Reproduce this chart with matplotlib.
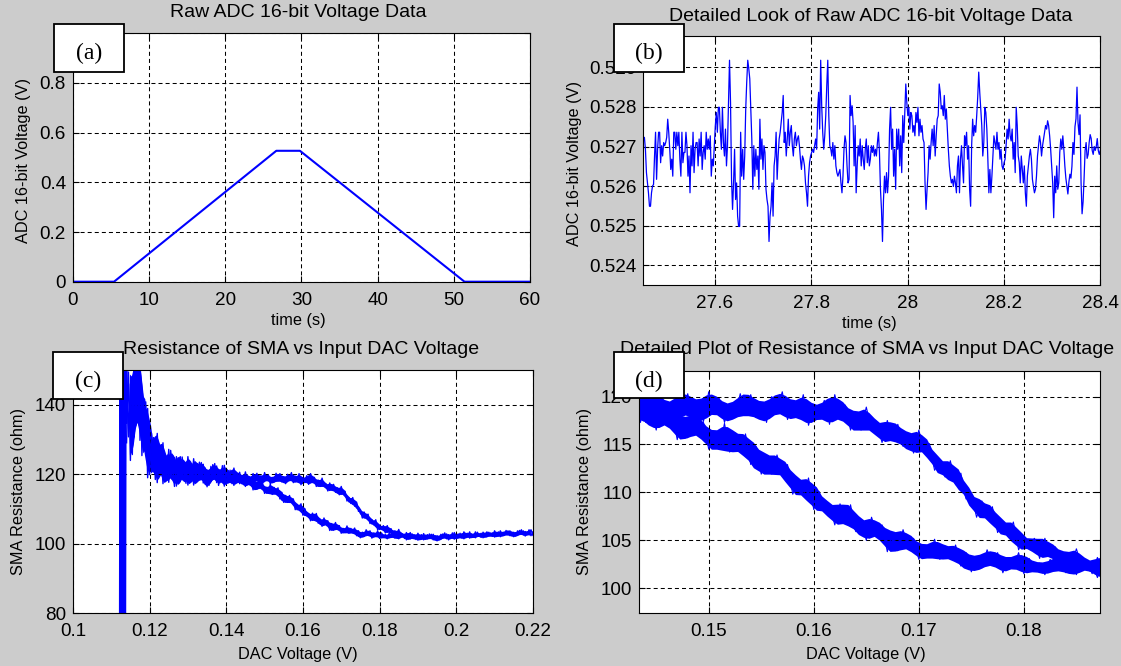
import numpy as np
import matplotlib.pyplot as plt
from matplotlib.patches import Rectangle
from matplotlib.ticker import FormatStrFormatter

plt.rcParams['font.family'] = ['Liberation Sans', 'DejaVu Sans']
plt.rcParams['lines.scale_dashes'] = False

# (a) raw ADC reading over the whole run
ramp_t = [0, 5.4, 26.7, 29.8, 51.4, 60]
ramp_v = [0, 0, 0.527, 0.527, 0, 0]

# (b) detail of the plateau, ADC reading in mV, evenly sampled in time
detail_t0, detail_t1 = 27.452, 28.40
detail_mv = [
    527.23, 527.23, 526.93, 526.34, 526.08, 525.83, 525.49, 525.49, 525.83, 526.00, 526.04, 526.76,
    527.36, 526.17, 526.93, 527.36, 527.36, 526.59, 527.02, 526.76, 527.10, 527.02, 527.10,
    527.23, 527.69, 527.36, 526.93, 526.42, 526.68, 526.25, 527.36, 527.36, 526.93, 527.36,
    527.02, 527.36, 526.68, 526.25, 527.36, 526.59, 526.85, 526.85, 527.36, 527.02, 526.25,
    526.76, 525.83, 527.02, 526.51, 527.36, 526.34, 526.93, 527.10, 527.10, 526.51, 527.19,
    526.76, 527.36, 526.42, 526.85, 527.02, 526.68, 527.36, 526.93, 527.19, 526.93,
    527.27, 526.25, 526.68, 526.51, 527.02, 527.53, 527.86, 527.36, 527.99, 527.99, 527.36,
    526.93, 527.99, 527.10, 526.76, 527.44, 526.51, 527.02, 528.12, 529.18, 528.12,
    526.17, 525.41, 526.08, 526.93, 525.66, 526.08, 525.24, 524.98, 524.98,
    # 27.66 s onwards
    527.36, 526.25, 526.93, 526.17, 526.76, 527.95, 528.63, 529.18, 528.97, 528.71,
    527.95, 527.19, 525.92, 527.02, 526.25, 526.93, 526.42, 526.76, 525.92, 527.69,
    526.68, 527.19, 526.42, 527.02, 526.85, 525.92, 525.66, 525.49, 524.60, 525.24,
    525.49, 526.08, 525.24, 526.51, 526.76, 527.36, 526.17, 526.76, 527.19, 527.36,
    527.61, 527.86, 528.29, 527.10, 527.36, 526.76, 527.19, 527.69, 527.02, 527.36,
    527.53, 527.02, 526.76, 527.19, 527.36, 527.02, 527.19, 527.27, 527.02, 526.68,
    526.42, 526.76, 526.68, 526.51, 526.08, 525.83, 525.49, 526.25, 526.59, 526.76,
    526.85, 526.93, 526.85, 527.02, 527.19, 526.93, 527.95, 528.37, 527.44, 529.18,
    528.03, 527.36, 526.93, 527.27, 527.78, 528.54, 529.18, 527.78, 527.02, 526.93,
    526.76, 527.10, 526.68, 527.02, 526.51, 526.34, 526.25, 526.34, 526.42, 526.08,
    525.83, 526.25, 526.93, 527.27, 527.10, 526.51, 526.08, 526.17,
    # 27.88 s onwards
    528.29, 527.78, 528.03, 527.61, 526.51, 527.53, 525.83, 526.51, 527.02, 526.76,
    527.19, 526.51, 527.02, 526.68, 526.42, 526.93, 527.19, 526.59, 527.02, 526.51,
    526.68, 527.02, 526.85, 527.02, 526.76, 526.93, 526.76, 527.10, 527.36, 526.85,
    525.92, 525.41, 524.60, 525.66, 526.25, 525.83, 526.34, 525.83, 526.25, 527.44,
    527.99, 526.93, 527.44, 526.25, 526.93, 525.92, 527.44, 526.93, 527.44, 526.51,
    527.27, 526.34, 527.78, 527.10, 527.86, 528.58, 528.12, 527.78, 527.99, 527.44,
    527.86, 527.78, 527.36, 527.53, 527.27, 527.86, 527.61, 527.99, 527.27, 527.69,
    527.36, 527.53, 527.19, 527.10, 526.08, 525.41, 525.92, 526.34, 527.02, 526.68,
    527.10, 527.44, 527.02, 527.53, 526.76, 527.27, 527.69, 527.78, 528.58, 528.37,
    527.95, 528.03, 527.78, 528.29, 527.69, 527.95, 527.44, 526.93, 526.51, 526.25,
    526.08, 526.17, 525.99, 526.25, 526.08, 525.83, 526.51, 526.76,
    # 28.10 s onwards
    525.83, 526.68, 527.02, 526.51, 526.08, 527.27, 527.02, 527.36, 526.68, 527.02,
    525.92, 525.49, 527.02, 527.69, 527.27, 527.53, 527.36, 527.78, 528.25, 528.88,
    528.37, 527.95, 527.53, 526.76, 527.10, 527.99, 527.86, 527.44, 526.68, 525.83,
    526.42, 525.83, 526.25, 526.76, 527.27, 527.10, 526.93, 527.36, 526.93, 527.10,
    526.68, 526.93, 526.51, 526.42, 526.59, 526.68, 527.02, 527.44, 527.19, 527.69,
    527.27, 527.14, 527.44, 526.68, 527.10, 526.34, 527.99, 527.53, 526.76, 526.59,
    526.08, 526.76, 526.42, 526.08, 526.51, 525.83, 525.49, 526.25, 526.51, 526.76,
    526.93, 526.68, 526.17, 525.99, 525.83, 525.92, 526.25, 526.76, 527.02, 527.27,
    527.10, 526.76, 527.02, 527.19, 527.36, 527.53, 527.44, 527.65, 527.53, 527.27,
    526.93, 526.51, 526.08, 525.20, 526.25, 525.83, 526.51, 525.92, 526.08, 526.85,
    527.19, 526.93, 527.27, 526.93, 526.51,
    # 28.32 s onwards
    526.2, 526.0, 525.8, 526.1, 526.3, 526.2, 526.5, 527.1, 526.8, 527.5,
    527.7, 528.5, 527.6, 527.3, 527.8, 526.1, 525.3, 525.6, 526.2, 526.9,
    527.1, 526.7, 526.8, 527.1, 527.3, 527.2, 526.9, 526.8, 527.0, 526.9,
    527.0, 527.2, 526.9, 526.8, 526.9,
]

# (c)/(d) SMA resistance vs DAC voltage, samples every 0.5 mV of DAC voltage
dac_v0, dac_v1 = 0.1140, 0.2200
r_heat = [
    154.6, 130.8, 146.1, 125.7, 152.9, 137.6, 158.0, 129.8, 143.6, 128.0,
    140.9, 119.0, 129.4, 122.9, 130.6, 118.5, 131.8, 121.7, 126.6, 117.3,
    124.4, 118.3, 127.2, 119.3, 122.3, 116.5, 125.1, 119.4, 125.1, 118.4,
    122.9, 117.4, 125.1, 119.9, 123.1, 116.9, 121.2, 118.0, 123.5, 118.6,
    122.9, 117.9, 121.0, 116.8, 122.3, 119.1, 123.1, 117.6, 121.0, 118.1,
    122.5, 116.6, 120.2, 118.3, 121.2, 117.3, 121.8, 118.6, 120.3, 117.3,
    119.7, 117.7, 120.7, 118.1, 119.2, 117.1, 120.2, 118.2, 120.3, 117.8,
    119.5, 117.4, 120.5, 118.5, 119.8, 117.3, 119.1, 117.8, 120.3, 118.1,
    120.2, 117.8, 119.3, 117.3, 120.0, 118.5, 120.5, 117.6, 119.4, 117.9,
    120.2, 117.0, 119.0, 117.9, 119.6, 117.1, 120.2, 117.9, 119.1, 116.5,
    118.3, 116.5, 118.9, 116.5, 117.2, 115.2, 117.5, 115.5, 117.1, 114.8,
    116.1, 114.1, 116.5, 114.3, 115.1, 112.3, 113.3, 111.6, 113.3, 110.8,
    112.0, 109.3, 109.8, 107.4, 109.1, 107.3, 108.5, 105.8, 106.9, 105.4,
    106.9, 104.0, 105.3, 104.2, 105.2, 103.1, 105.2, 103.4, 104.3, 102.4,
    103.7, 102.3, 104.1, 102.3, 102.8, 101.5, 103.2, 102.0, 103.2, 101.5,
    102.6, 101.2, 103.0, 101.8, 102.6, 101.1, 102.2, 101.4, 102.8, 101.5,
    102.7, 101.3, 102.3, 101.1, 102.7, 101.9, 103.1, 101.4, 102.6, 101.7,
    103.1, 101.3, 102.5, 101.9, 103.0, 101.6, 103.4, 102.2, 103.0, 101.6,
    102.8, 101.9, 103.4, 102.2, 102.7, 101.8, 103.3, 102.3, 103.4, 102.2,
    103.1, 102.1, 103.7, 102.6, 103.4, 102.0, 103.1, 102.4, 103.8, 102.6,
    103.7, 102.5, 103.3, 102.2, 103.7, 102.9, 104.0, 102.5, 103.5, 102.7,
    104.0, 102.3, 103.4,
]
r_cool = [
    129.1, 149.5, 124.0, 146.1, 130.8, 156.3, 137.6, 153.8, 125.4, 138.8,
    127.7, 139.0, 119.9, 131.9, 121.3, 126.5, 117.6, 128.7, 120.7, 129.1,
    119.0, 124.1, 117.7, 126.9, 121.3, 124.8, 116.6, 123.4, 117.9, 125.0,
    119.7, 123.1, 116.9, 121.5, 118.1, 124.5, 118.5, 123.0, 119.5, 123.4,
    117.5, 121.8, 116.4, 120.9, 117.9, 122.8, 119.1, 122.4, 116.8, 120.9,
    118.8, 122.6, 117.1, 121.1, 117.9, 119.7, 116.8, 120.5, 117.9, 120.6,
    117.3, 118.8, 116.5, 119.3, 117.3, 118.5, 115.5, 117.8, 115.7, 118.2,
    116.1, 117.3, 114.5, 116.2, 114.5, 117.2, 114.2, 116.2, 114.3, 116.1,
    112.9, 114.8, 111.9, 113.9, 111.9, 113.9, 111.8, 112.9, 109.8, 111.3,
    109.7, 111.5, 108.2, 110.1, 108.0, 108.7, 106.6, 108.8, 106.8, 108.7,
    105.9, 107.0, 105.0, 107.4, 105.6, 106.6, 103.8, 105.8, 103.9, 106.1,
    104.2, 105.2, 103.0, 104.4, 103.2, 105.1, 103.0, 104.4, 103.1, 104.5,
    102.3, 103.7, 101.7, 103.3, 102.1, 104.0, 102.5, 103.7, 101.6, 103.1,
    102.2, 103.7, 101.5, 103.1, 101.8, 102.6, 101.4, 103.0, 101.9, 103.3,
    101.6, 102.5, 101.4, 103.1, 102.1, 102.7, 101.1, 102.5, 101.4, 102.8,
    101.7, 102.5, 101.0, 102.1, 101.3, 102.9, 101.4, 102.6, 101.7, 102.7,
    101.1, 102.3, 100.8, 102.1, 101.3, 102.8, 101.8, 102.8, 101.1, 102.5,
    101.8, 103.2, 101.4, 102.8, 101.8, 102.5, 101.4, 103.0, 102.0, 103.4,
    101.9, 102.7, 101.7, 103.3, 102.4, 103.0, 101.7, 102.9, 102.0, 103.3,
    102.4, 103.1, 101.9, 102.9, 102.2, 103.7, 102.4, 103.4, 102.7, 103.7,
    102.3, 103.4, 102.0, 103.2, 102.4, 103.8, 102.8, 103.7, 102.2, 103.4,
    102.8, 104.0, 102.4,
]
# start-up samples at the lowest DAC voltage (current near zero)
startup_v = [0.1123, 0.1125, 0.1127, 0.1129, 0.1131, 0.1133, 0.1135, 0.1137, 0.1139]
startup_r = [35, 175, 25, 180, 40, 170, 55, 165, 135]

BLUE = '#0000ff'
W, H = 1121, 666
fig = plt.figure(figsize=(W / 100, H / 100), dpi=100, facecolor='#cccccc')


def fx(px):
    return px / W


def fy(py):
    return 1 - py / H


def make_axes(left, top, right, bottom):
    ax = fig.add_axes([fx(left), fy(bottom), (right - left) / W, (bottom - top) / H])
    ax.set_facecolor('white')
    ax.grid(True, color='black', linestyle=(0, (2.9, 2.2)), linewidth=0.75)
    ax.tick_params(direction='in', length=4, width=0.8, top=True, right=True,
                   labelsize=13.6, colors='black')
    ax.tick_params(axis='x', pad=7.5)
    ax.tick_params(axis='y', pad=5)
    for s in ax.spines.values():
        s.set_linewidth(0.8)
    ax.xaxis.set_major_formatter(FormatStrFormatter('%g'))
    ax.yaxis.set_major_formatter(FormatStrFormatter('%g'))
    return ax


def noisy_band(ax, v, r, lw):
    # solid core between the average neighbouring highs and lows,
    # the raw trace on top supplies the spikes
    r = np.asarray(r)
    vm = (v[:-1] + v[1:]) / 2
    pmax = np.maximum(r[:-1], r[1:])
    pmin = np.minimum(r[:-1], r[1:])
    hi = (pmax[:-2] + pmax[1:-1] + pmax[2:]) / 3
    lo = (pmin[:-2] + pmin[1:-1] + pmin[2:]) / 3
    ax.fill_between(vm[1:-1], lo, np.maximum(hi, lo), color=BLUE, lw=0)
    ax.plot(v, r, color=BLUE, lw=lw)


# (a)
ax = make_axes(72.9, 33.3, 530, 281.7)
ax.plot(ramp_t, ramp_v, color=BLUE, lw=1.5)
ax.set_xlim(0, 60)
ax.set_ylim(0, 1)
ax.set_xticks([0, 10, 20, 30, 40, 50, 60])
ax.set_yticks([0, 0.2, 0.4, 0.6, 0.8, 1])

# (b)
ax = make_axes(643.4, 35.7, 1100.3, 285)
t = np.linspace(detail_t0, detail_t1, len(detail_mv))
ax.plot(t, np.array(detail_mv) / 1000, color=BLUE, lw=0.9)
ax.set_xlim(detail_t0, detail_t1)
ax.set_ylim(0.5235, 0.5298)
ax.set_xticks([27.6, 27.8, 28, 28.2, 28.4])
ax.set_yticks([0.524, 0.525, 0.526, 0.527, 0.528, 0.529])

# (c) and (d) share the same sweep
v = np.linspace(dac_v0, dac_v1, len(r_heat))
ax = make_axes(72.9, 370.3, 532.9, 613)
ax.plot(startup_v, startup_r, color=BLUE, lw=2)
noisy_band(ax, v, r_heat, 1.0)
noisy_band(ax, v, r_cool, 1.0)
ax.set_xlim(0.1, 0.22)
ax.set_ylim(80, 150)
ax.set_xticks([0.1, 0.12, 0.14, 0.16, 0.18, 0.2, 0.22])
ax.set_yticks([80, 100, 120, 140])

ax = make_axes(639.4, 370.7, 1099.5, 613)
noisy_band(ax, v, r_heat, 0.8)
noisy_band(ax, v, r_cool, 0.8)
ax.set_xlim(0.1434, 0.1872)
ax.set_ylim(97.4, 122.7)
ax.set_xticks([0.15, 0.16, 0.17, 0.18])
ax.set_yticks([100, 105, 110, 115, 120])

# titles and axis labels
titles = [
    (298.2, 17.3, 'Raw ADC 16-bit Voltage Data'),
    (870.6, 20.7, 'Detailed Look of Raw ADC 16-bit Voltage Data'),
    (300.9, 353.7, 'Resistance of SMA vs Input DAC Voltage'),
    (867.3, 353.7, 'Detailed Plot of Resistance of SMA vs Input DAC Voltage'),
]
for x, y, s in titles:
    fig.text(fx(x), fy(y), s, ha='center', va='baseline', fontsize=14)

xlabels = [
    (298.2, 325, 'time (s)'),
    (869.5, 328, 'time (s)'),
    (298.2, 659, 'DAC Voltage (V)'),
    (865.4, 659, 'DAC Voltage (V)'),
]
for x, y, s in xlabels:
    fig.text(fx(x), fy(y), s, ha='center', va='baseline', fontsize=11.7)

ylabels = [
    (23.2, 160.8, 'ADC 16-bit Voltage (V)'),
    (574.3, 163.3, 'ADC 16-bit Voltage (V)'),
    (18.6, 491.3, 'SMA Resistance (ohm)'),
    (585.0, 491.3, 'SMA Resistance (ohm)'),
]
for x, y, s in ylabels:
    fig.text(fx(x), fy(y), s, ha='center', va='center', rotation=90, fontsize=11.7)

# panel tags
tags = [
    (53.6, 24.3, 124.0, 72.0, '(a)'),
    (613.7, 24.3, 684.1, 72.0, '(b)'),
    (53.0, 352.0, 123.4, 398.7, '(c)'),
    (613.7, 352.3, 684.1, 398.0, '(d)'),
]
for x0, y0, x1, y1, s in tags:
    fig.add_artist(Rectangle((fx(x0), fy(y1)), (x1 - x0) / W, (y1 - y0) / H,
                             transform=fig.transFigure, facecolor='white',
                             edgecolor='black', linewidth=1.3, zorder=5))
    fig.text(fx((x0 + x1) / 2), fy(y0 + 35), s, ha='center', va='baseline',
             family='Liberation Serif', fontsize=17, zorder=6)

fig.savefig('out.png', dpi=100, facecolor=fig.get_facecolor())
